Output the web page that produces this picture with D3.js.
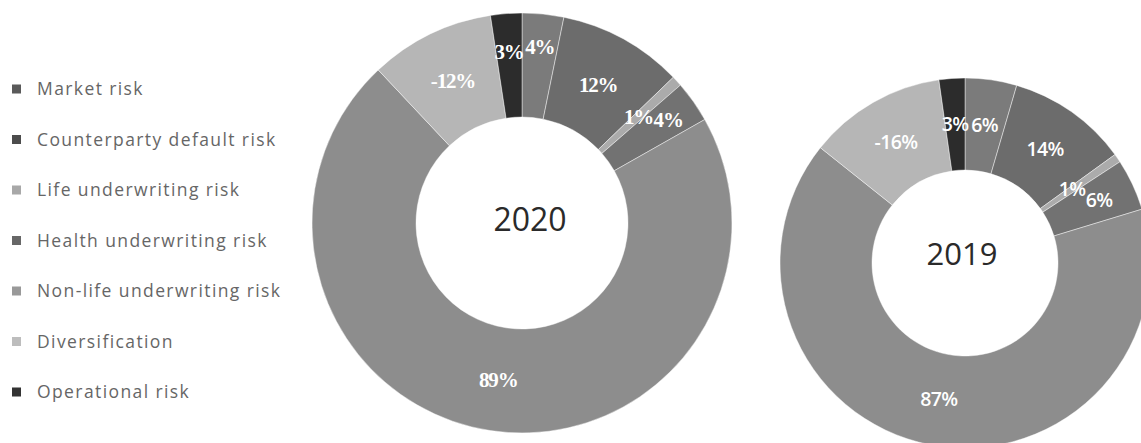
<!DOCTYPE html>
<html>
<head>
<meta charset="utf-8">
<script src="https://cdn.jsdelivr.net/npm/d3@7"></script>
<style>
  html, body { margin: 0; padding: 0; background: #fff; }
  svg { display: block; }
</style>
</head>
<body>
<svg id="chart" width="1141" height="443"></svg>
<script>
// ---- data ----
const categories = [
  "Market risk",
  "Counterparty default risk",
  "Life underwriting risk",
  "Health underwriting risk",
  "Non-life underwriting risk",
  "Diversification",
  "Operational risk"
];
const years = ["2020", "2019"];
const values2020 = [4, 12, 1, 4, 89, -12, 3];
const values2019 = [6, 14, 1, 6, 87, -16, 3];

// ---- styles ----
const palette = ["#7b7b7b", "#6c6c6c", "#ababab", "#727272", "#8d8d8d", "#b6b6b6", "#2c2c2c"];
const legendPalette = ["#5a5a5a", "#4c4c4c", "#a8a8a8", "#676767", "#999999", "#bdbdbd", "#333333"];

const svg = d3.select("#chart");

// ---- legend ----
const legendY = d3.scalePoint().domain(categories).range([89, 392]);
const legend = svg.append("g");
categories.forEach((c, i) => {
  const y = legendY(c);
  legend.append("rect")
    .attr("x", 12).attr("y", y - 4.5).attr("width", 9).attr("height", 9)
    .attr("fill", legendPalette[i]);
  legend.append("text")
    .attr("x", 37).attr("y", y)
    .attr("dy", "0.36em")
    .attr("font-family", "'Open Sans', sans-serif")
    .attr("font-size", 17.5)
    .attr("letter-spacing", 1.4)
    .attr("fill", "#666666")
    .text(c);
});

// ---- donuts ----
const donuts = [
  { year: years[0], values: values2020, cx: 522, cy: 223, R: 210, r: 106,
    labelFont: "'Liberation Serif', serif", labelSize: 21, labelWeight: 700, letterSpacing: -1.2,
    yearSize: 32, yearDx: 8, yearDy: -4,
    nudge: { 0: 177, 3: 179, 6: 172 } },
  { year: years[1], values: values2019, cx: 965, cy: 263, R: 185, r: 93,
    labelFont: "'Open Sans', sans-serif", labelSize: 19.5, labelWeight: 600, letterSpacing: -0.6,
    yearSize: 31, yearDx: -3, yearDy: -9,
    nudge: { 2: 130, 3: 148 } }
];

const pie = d3.pie().sort(null).value(d => Math.abs(d.value));

donuts.forEach(cfg => {
  const data = categories.map((c, i) => ({ cat: c, value: cfg.values[i], i }));
  const arcs = pie(data);
  const arc = d3.arc().innerRadius(cfg.r).outerRadius(cfg.R);
  const g = svg.append("g").attr("transform", `translate(${cfg.cx},${cfg.cy})`);

  g.selectAll("path.slice")
    .data(arcs)
    .join("path")
    .attr("class", "slice")
    .attr("d", arc)
    .attr("fill", d => palette[d.data.i])
    .attr("stroke", "#ffffff")
    .attr("stroke-opacity", 0.55)
    .attr("stroke-width", 0.8);

  const mid = (cfg.R + cfg.r) / 2;
  g.selectAll("text.lbl")
    .data(arcs)
    .join("text")
    .attr("class", "lbl")
    .attr("transform", d => {
      const a = (d.startAngle + d.endAngle) / 2;
      const rr = cfg.nudge[d.data.i] !== undefined ? cfg.nudge[d.data.i] : mid;
      return `translate(${Math.sin(a) * rr},${-Math.cos(a) * rr})`;
    })
    .attr("text-anchor", "middle")
    .attr("dy", "0.35em")
    .attr("font-family", cfg.labelFont)
    .attr("font-size", cfg.labelSize)
    .attr("font-weight", cfg.labelWeight)
    .attr("letter-spacing", cfg.letterSpacing)
    .attr("fill", "#ffffff")
    .text(d => d.data.value + "%");

  g.append("text")
    .attr("text-anchor", "middle")
    .attr("x", cfg.yearDx)
    .attr("y", cfg.yearDy)
    .attr("dy", "0.36em")
    .attr("font-family", "'Open Sans', sans-serif")
    .attr("font-size", cfg.yearSize)
    .attr("fill", "#2a2a2a")
    .text(cfg.year);
});
</script>
</body>
</html>
